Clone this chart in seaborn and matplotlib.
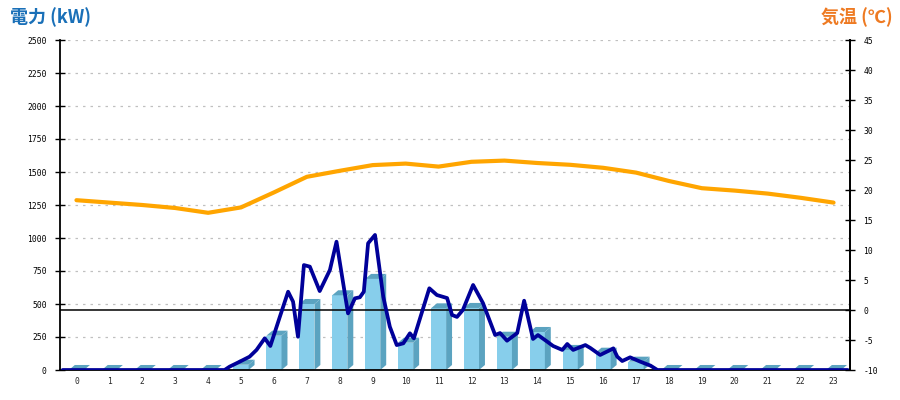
import numpy as np
import pandas as pd
import matplotlib
matplotlib.use('Agg')
import matplotlib.pyplot as plt
import seaborn as sns
from matplotlib.patches import Polygon

# ---- data ----
hours = list(range(24))
hour_labels = [str(h) for h in hours]
power_hourly = [0, 0, 0, 0, 0, 40, 260, 500, 566, 690, 207, 467,
                470, 252, 288, 152, 131, 63, 0, 0, 0, 0, 0, 0]

power_t = [-0.42, 4.50, 4.65, 4.96, 5.26, 5.47, 5.72, 5.89, 6.18, 6.43, 6.58, 6.73,
           6.91, 7.09, 7.39, 7.70, 7.90, 8.25, 8.46, 8.61, 8.73, 8.86, 9.07, 9.32,
           9.52, 9.73, 9.93, 10.13, 10.25, 10.72, 10.95, 11.26, 11.41, 11.56, 11.74,
           12.05, 12.35, 12.72, 12.87, 13.08, 13.39, 13.60, 13.87, 14.02, 14.30,
           14.48, 14.76, 14.91, 15.09, 15.46, 15.61, 15.91, 16.22, 16.31, 16.43,
           16.58, 16.82, 17.13, 17.44, 17.65, 23.43]
power_kw = [0, 0, 25, 63, 101, 152, 240, 182, 404, 593, 518, 252, 795, 783, 598,
            758, 972, 429, 543, 551, 593, 960, 1023, 556, 328, 189, 202, 278, 240,
            619, 568, 545, 417, 402, 455, 644, 507, 265, 280, 222, 280, 525, 235,
            265, 215, 182, 152, 197, 152, 189, 167, 114, 152, 164, 101, 68, 96, 63,
            33, 0, 0]

temp_t = hours
temp_c = [18.3, 17.9, 17.5, 17.0, 16.2, 17.1, 19.6, 22.2, 23.2, 24.15, 24.4, 23.9,
          24.7, 24.9, 24.5, 24.2, 23.7, 22.9, 21.5, 20.3, 19.9, 19.4, 18.7, 17.9]

left_ticks = list(range(0, 2501, 250))
right_ticks = list(range(-10, 46, 5))
left_title = '電力 (kW)'
right_title = '気温 (℃)'

# ---- style ----
sns.set_style('white')
plt.rcParams['font.family'] = ['Noto Sans CJK JP', 'DejaVu Sans']

FRONT = '#87CEEB'
DARK = '#5BA3C0'
NAVY = '#000099'
ORANGE = '#FFA500'

fig = plt.figure(figsize=(9, 4), dpi=100)
ax = fig.add_axes([60 / 900, 30 / 400, 790 / 900, 330 / 400])

df = pd.DataFrame({'hour': hours, 'kw': power_hourly})
sns.barplot(data=df, x='hour', y='kw', ax=ax, color=FRONT, saturation=1,
            width=0.46, linewidth=0, errorbar=None, zorder=2)

# 3D faces
dx, dy = 0.18, 38
for p in list(ax.patches):
    x0 = p.get_x()
    w = p.get_width()
    h = p.get_height()
    side = Polygon([(x0 + w, 0), (x0 + w + dx, dy), (x0 + w + dx, h + dy), (x0 + w, h)],
                   closed=True, facecolor=DARK, edgecolor='none', zorder=2)
    top = Polygon([(x0, h), (x0 + dx, h + dy), (x0 + w + dx, h + dy), (x0 + w, h)],
                  closed=True, facecolor=DARK, edgecolor='none', zorder=2)
    ax.add_patch(side)
    ax.add_patch(top)

ax.set_xlim(-0.5, 23.5)
ax.set_ylim(0, 2500)
ax.set_yticks(left_ticks)
ax.set_yticklabels([str(v) for v in left_ticks])
ax.set_xticks(hours)
ax.set_xticklabels(hour_labels)
ax.set_xlabel('')
ax.set_ylabel('')

ax.yaxis.grid(True, color='#c0c0c0', linestyle=(0, (2, 4)), linewidth=0.9)
ax.xaxis.grid(False)
ax.set_axisbelow(True)

# zero-degree line (right axis 0 mapped on left scale)
y0 = 2500 * (0 - right_ticks[0]) / (right_ticks[-1] - right_ticks[0])
ax.axhline(y0, color='black', linewidth=1.1, zorder=3)

sns.lineplot(x=power_t, y=power_kw, ax=ax, color=NAVY, linewidth=2.7,
             sort=False, estimator=None, zorder=4)

for s in ['top']:
    ax.spines[s].set_visible(False)
for s in ['left', 'bottom', 'right']:
    ax.spines[s].set_color('black')
    ax.spines[s].set_linewidth(1.3)

ax.tick_params(axis='y', direction='inout', length=7, width=1, pad=6,
               labelsize=5.8, colors='black', left=True)
ax.tick_params(axis='x', length=0, pad=5, labelsize=5.8)
for lab in ax.get_xticklabels() + ax.get_yticklabels():
    lab.set_fontfamily('DejaVu Sans Mono')

ax2 = ax.twinx()
sns.lineplot(x=temp_t, y=temp_c, ax=ax2, color=ORANGE, linewidth=3, zorder=5)
ax2.set_ylim(right_ticks[0], right_ticks[-1])
ax2.set_yticks(right_ticks)
ax2.set_yticklabels([str(v) for v in right_ticks])
ax2.set_ylabel('')
ax2.spines['top'].set_visible(False)
ax2.spines['left'].set_visible(False)
ax2.spines['bottom'].set_visible(False)
ax2.spines['right'].set_color('black')
ax2.spines['right'].set_linewidth(1.3)
ax2.tick_params(axis='y', direction='inout', length=7, width=1, pad=6,
                labelsize=5.8, colors='black', right=True)
for lab in ax2.get_yticklabels():
    lab.set_fontfamily('DejaVu Sans Mono')
ax2.grid(False)

fig.text(10 / 900, 1 - 17 / 400, left_title, color='#1A70B8', fontsize=13,
         fontweight='bold', ha='left', va='center')
fig.text(893 / 900, 1 - 17 / 400, right_title, color='#EE7A22', fontsize=13,
         fontweight='bold', ha='right', va='center')

fig.savefig('out.png', dpi=100)
